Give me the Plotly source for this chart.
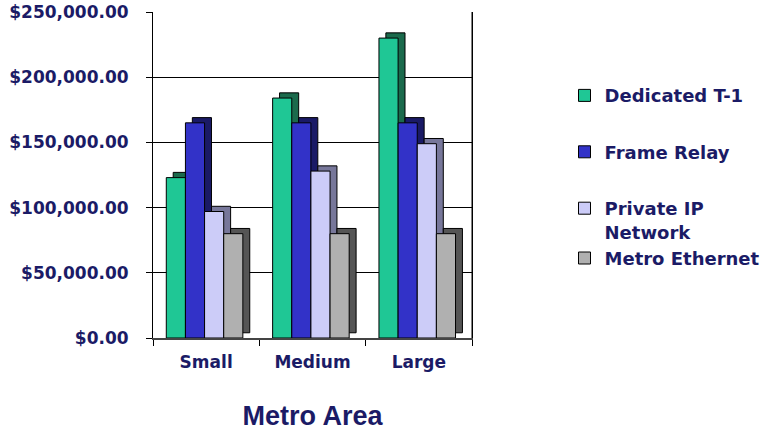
import plotly.graph_objects as go

categories = ["Small", "Medium", "Large"]
series_names = ["Dedicated T-1", "Frame Relay", "Private IP<br>Network", "Metro Ethernet"]
dedicated_t1 = [123000, 184000, 230000]
frame_relay = [165000, 165000, 165000]
private_ip = [97000, 128000, 149000]
metro_ethernet = [80000, 80000, 80000]
y_ticks = [0, 50000, 100000, 150000, 200000, 250000]

values = [dedicated_t1, frame_relay, private_ip, metro_ethernet]
front_colors = ["#1fc795", "#3232c8", "#ccccf8", "#b0b0b0"]
side_colors = ["#1b6a4c", "#1a1a66", "#77779a", "#555555"]
groups = ["g1", "g2", "g3", "g3"]

bar_w = 0.18
depth_x = 0.065
depth_y = 4000
offsets = [-0.375, -0.195, -0.015, 0.165]
navy = "#1b1b66"
font_fam = "DejaVu Sans, Verdana, sans-serif"
title_fam = "Liberation Sans, Arial, sans-serif"

fig = go.Figure()
# 3D side/top faces
for i, vals in enumerate(values):
    fig.add_trace(go.Bar(
        x=categories, y=vals, base=depth_y,
        offset=offsets[i] + depth_x, width=bar_w,
        marker=dict(color=side_colors[i], line=dict(color="black", width=1)),
        showlegend=False, hoverinfo="skip"))
# front faces
for i, vals in enumerate(values):
    fig.add_trace(go.Bar(
        x=categories, y=vals, name=series_names[i],
        offset=offsets[i], width=bar_w, legendgroup=groups[i],
        marker=dict(color=front_colors[i], line=dict(color="black", width=1))))

fig.update_layout(
    width=767, height=431,
    margin=dict(l=153, r=295, t=12, b=93, autoexpand=False),
    paper_bgcolor="white", plot_bgcolor="white",
    barmode="overlay",
    font=dict(family=font_fam, color=navy, size=17),
    showlegend=True,
    legend=dict(x=1.29, y=0.80, xanchor="left", yanchor="top",
                font=dict(size=18, family=font_fam, color=navy, weight="bold"),
                tracegroupgap=30, valign="top", itemwidth=30,
                bgcolor="rgba(0,0,0,0)"),
    xaxis=dict(
        type="category", range=[-0.5, 2.5], automargin=False,
        showline=True, linecolor="#444444", linewidth=2, mirror=False,
        ticks="outside", ticklen=6, tickcolor="black", tickson="boundaries",
        ticklabelstandoff=8,
        tickfont=dict(size=17, family=font_fam, color=navy, weight="bold"),
        showgrid=False,
        title=dict(text="Metro Area", standoff=40,
                   font=dict(size=27, family=title_fam, color=navy, weight="bold")),
    ),
    yaxis=dict(
        range=[0, 250000], tickvals=y_ticks, tickformat="$,.2f", automargin=False,
        showline=True, linecolor="black", linewidth=1, mirror=True,
        ticks="outside", ticklen=6, tickcolor="black",
        ticklabelstandoff=14,
        showgrid=True, gridcolor="black", gridwidth=1,
        tickfont=dict(size=17, family=font_fam, color=navy, weight="bold"),
        zeroline=False,
    ),
)
fig.add_shape(type="line", xref="paper", yref="paper", x0=1, x1=1, y0=0, y1=1,
              line=dict(color="black", width=1))

fig.write_html("out.html")
